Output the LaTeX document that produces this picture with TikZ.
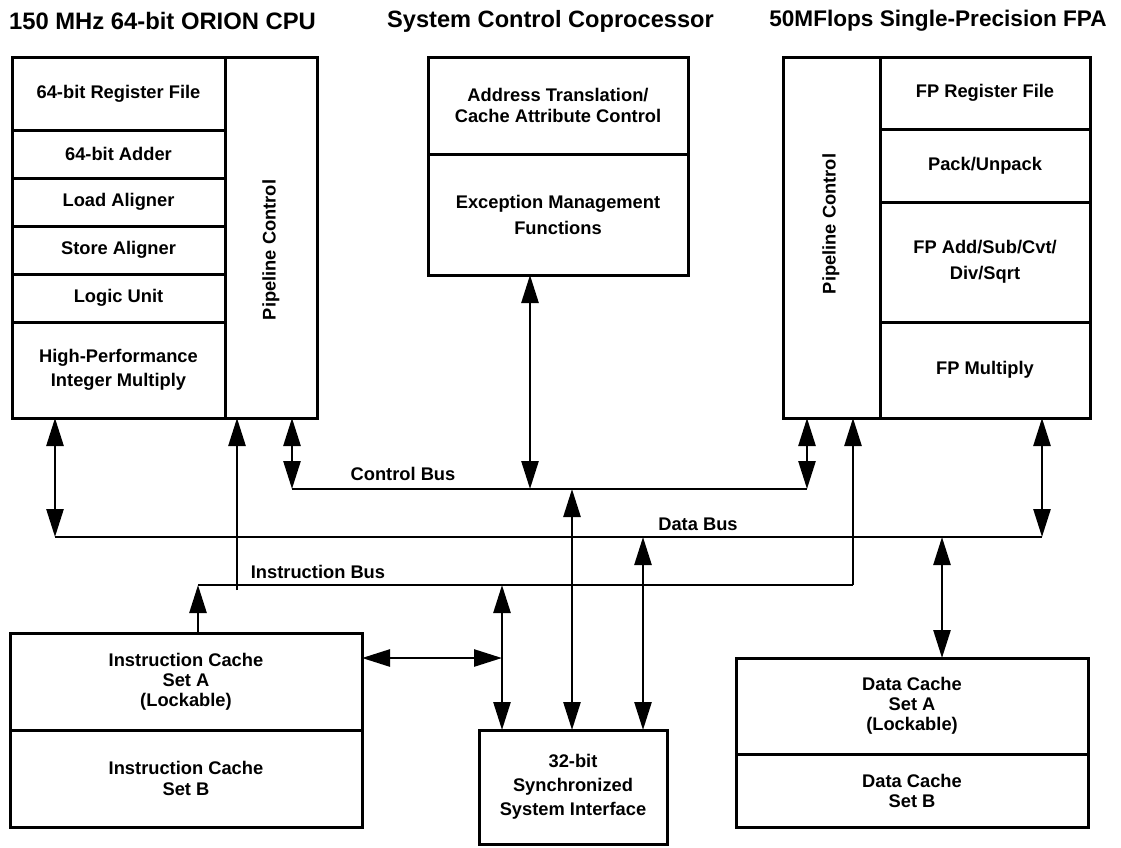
\documentclass[tikz,border=0pt]{standalone}
\usepackage{fontspec}
\setmainfont{Liberation Sans}
\usetikzlibrary{arrows.meta}
\begin{document}
\begin{tikzpicture}[x=1pt,y=-1pt,
  box/.style={draw, line width=3pt, inner sep=0pt, outer sep=0pt, anchor=north west},
  txt/.style={font=\fontsize{18.3}{21}\selectfont\bfseries, align=center, inner sep=0pt},
  ttl/.style={font=\fontsize{#1}{26}\selectfont\bfseries, inner sep=0pt},
  bus/.style={line width=2.6pt},
  tip/.style={line width=2.6pt, -{Triangle[length=28pt,width=17pt]}},
  dtip/.style={line width=2.6pt, {Triangle[length=28pt,width=17pt]}-{Triangle[length=28pt,width=17pt]}},
]
\useasboundingbox (0,0) rectangle (1121,847);

% titles
\node[ttl=23.8] (t1) at (162.5,21) {150 MHz 64-bit ORION CPU};
\node[ttl=23.6] (t2) at (550.5,21) {System Control Coprocessor};
\node[ttl=22.6] (t3) at (938,21) {50MFlops Single-Precision FPA};

% CPU
\node[box, minimum width=305pt, minimum height=361pt] (cpu) at (12,57) {};
\node[box, txt, minimum width=213pt, minimum height=73pt] (creg) at (12,57) {64-bit Register File};
\node[box, txt, minimum width=213pt, minimum height=48pt] (cadd) at (12,130) {64-bit Adder};
\node[box, txt, minimum width=213pt, minimum height=48pt] (cload) at (12,178) {Load Aligner};
\node[box, txt, minimum width=213pt, minimum height=48pt] (cstore) at (12,226) {Store Aligner};
\node[box, txt, minimum width=213pt, minimum height=48pt] (clogic) at (12,274) {Logic Unit};
\node[box, txt, minimum width=213pt, minimum height=96pt, font=\fontsize{18.3}{24}\selectfont\bfseries] (cmul) at (12,322) {High-Performance\\Integer Multiply};
\node[txt, rotate=90] (cpipe) at (271,250) {Pipeline Control};

% System control coprocessor
\node[box, txt, minimum width=260pt, minimum height=97pt, font=\fontsize{18.3}{21}\selectfont\bfseries] (satr) at (428,57) {Address Translation/\\Cache Attribute Control};
\node[box, txt, minimum width=260pt, minimum height=121pt, font=\fontsize{18.3}{26}\selectfont\bfseries] (sexc) at (428,154) {Exception Management\\Functions};

% FPA
\node[box, minimum width=307pt, minimum height=361pt] (fpa) at (783,57) {};
\node[box, txt, minimum width=210pt, minimum height=72pt] (freg) at (880,57) {FP Register File};
\node[box, txt, minimum width=210pt, minimum height=73pt] (fpack) at (880,129) {Pack/Unpack};
\node[box, txt, minimum width=210pt, minimum height=120pt, font=\fontsize{18.3}{26}\selectfont\bfseries] (fadd) at (880,202) {FP Add/Sub/Cvt/\\Div/Sqrt};
\node[box, txt, minimum width=210pt, minimum height=96pt] (fmul) at (880,322) {FP Multiply};
\node[txt, rotate=90] (fpipe) at (831,224) {Pipeline Control};

% caches and interface
\node[box, txt, minimum width=352pt, minimum height=97pt, font=\fontsize{18.3}{20}\selectfont\bfseries] (icA) at (10,633) {Instruction Cache\\Set A\\(Lockable)};
\node[box, txt, minimum width=352pt, minimum height=97pt, font=\fontsize{18.3}{21}\selectfont\bfseries] (icB) at (10,730) {Instruction Cache\\Set B};
\node[box, txt, minimum width=188pt, minimum height=114pt, font=\fontsize{18.3}{24}\selectfont\bfseries] (si) at (479,730) {32-bit\\Synchronized\\System Interface};
\node[box, txt, minimum width=352pt, minimum height=96pt, font=\fontsize{18.3}{20}\selectfont\bfseries] (dcA) at (736,658) {Data Cache\\Set A\\(Lockable)};
\node[box, txt, minimum width=352pt, minimum height=73pt, font=\fontsize{18.3}{20}\selectfont\bfseries] (dcB) at (736,754) {Data Cache\\Set B};

% buses
\coordinate (cbL) at (292,489); \coordinate (cbR) at (807,489);
\coordinate (dbL) at (55,537);  \coordinate (dbR) at (1042,537);
\coordinate (ibL) at (198,585); \coordinate (ibR) at (853,585);
\draw[bus] (cbL) -- (cbR);
\draw[bus] (dbL) -- (dbR);
\draw[bus] (ibL) -- (ibR);
\node[txt] (cbus) at (403,474) {Control Bus};
\node[txt] (dbus) at (698,524) {Data Bus};
\node[txt] (ibus) at (318,572) {Instruction Bus};

% connectors
\coordinate (iext) at (237,590);
\coordinate (sccx) at (530,489);
\coordinate (cs) at (572,489);
\coordinate (ds) at (643,537);
\coordinate (is) at (502,585);
\coordinate (ih) at (502,658);
\coordinate (dd) at (942,537);
\draw[dtip] (cpu.south -| dbL) -- (dbL);
\draw[tip] (iext) -- (cpu.south -| iext);
\draw[dtip] (cpu.south -| cbL) -- (cbL);
\draw[dtip] (sexc.south -| sccx) -- (sccx);
\draw[dtip] (fpa.south -| cbR) -- (cbR);
\draw[tip] (ibR) -- (fpa.south -| ibR);
\draw[dtip] (fpa.south -| dbR) -- (dbR);
\draw[dtip] (cs) -- (si.north -| cs);
\draw[dtip] (ds) -- (si.north -| ds);
\draw[dtip] (is) -- (si.north -| is);
\draw[dtip] (icA.east |- ih) -- (ih);
\draw[tip] (icA.north -| ibL) -- (ibL);
\draw[dtip] (dd) -- (dcA.north -| dd);
\end{tikzpicture}
\end{document}
